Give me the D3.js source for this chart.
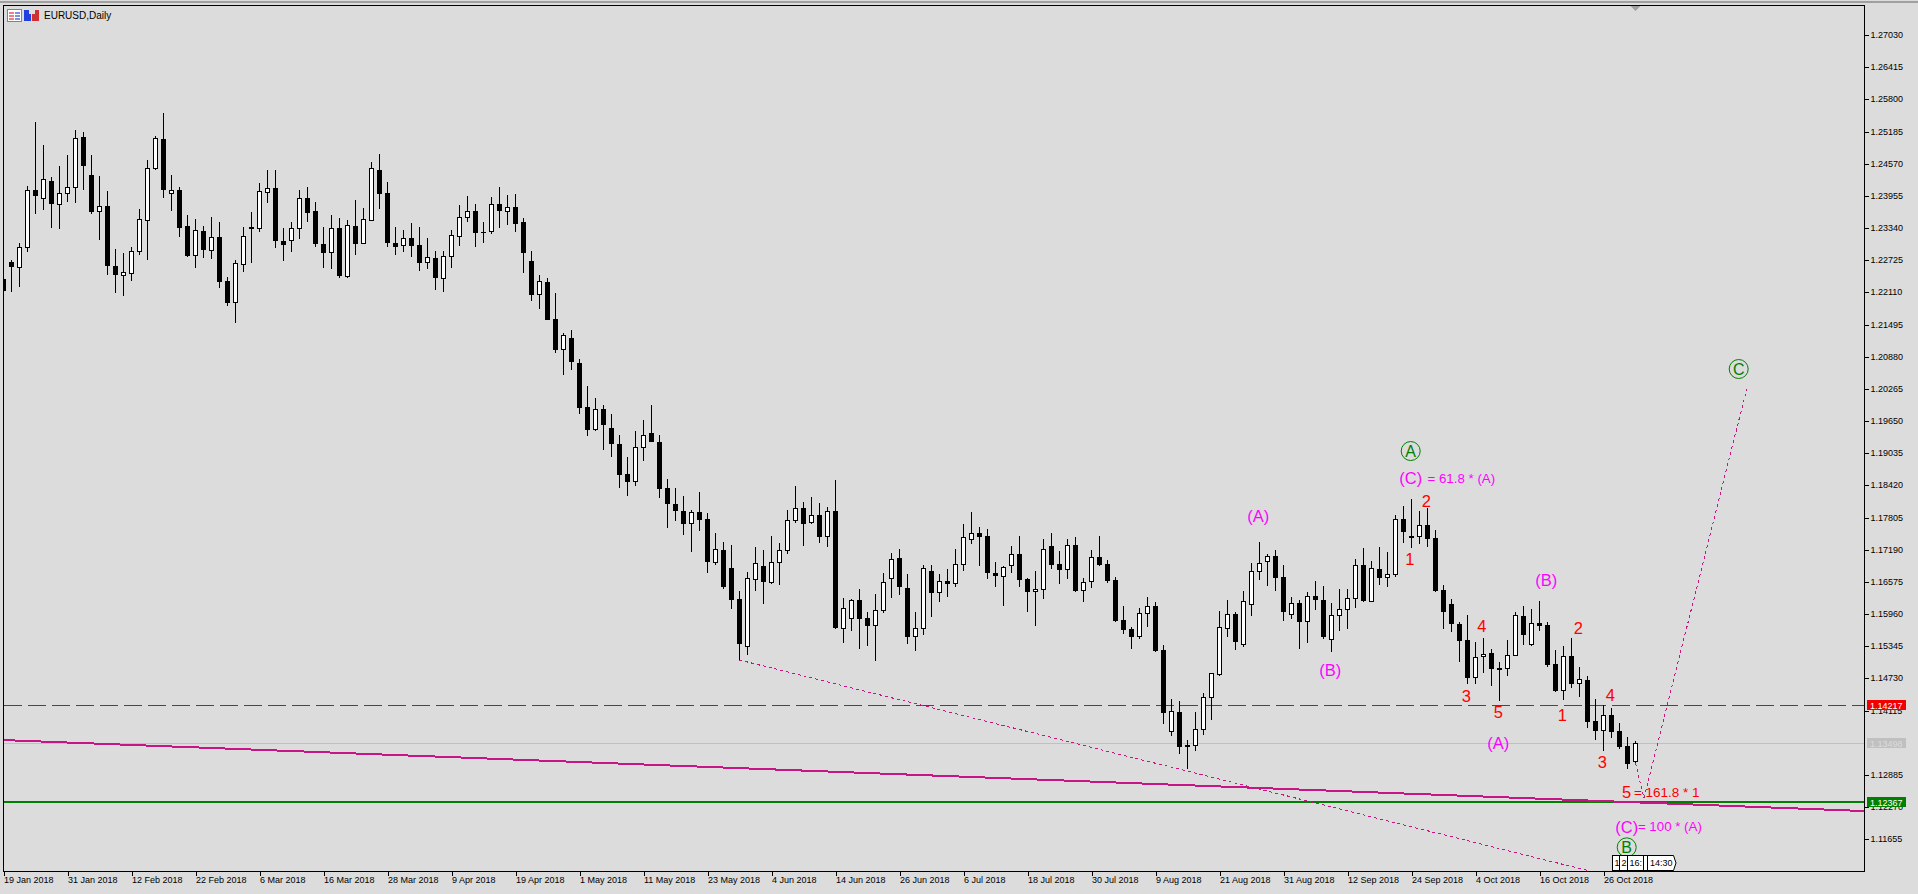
<!doctype html>
<html lang="en">
  <head>
    <meta charset="utf-8">
    <script src="https://cdn.jsdelivr.net/npm/d3@7"></script>
    <style>
html, body { margin: 0; padding: 0; background: #dcdcdc; overflow: hidden; }
svg { display: block; }
text { font-family: "Liberation Sans", Arial, sans-serif; }
.axis text { font-size: 9px; fill: #000; }
.axis path, .axis line { stroke: #000; shape-rendering: crispEdges; }
    </style>
  </head>
  <body>
    <div id="chart"></div>
    <script>
//=============================== DATA ===================================
var highs = [
1.22365,1.22729,1.23054,1.24143,1.25367,1.24927,1.24315,1.24525,1.24735,1.25214,1.25176,1.24735,1.24334,1.24048,1.22939,1.22863,1.22977,1.23703,1.24640,1.25099,
1.25539,1.24353,1.24124,1.23588,1.23512,1.23378,1.23550,1.23455,1.22403,1.22729,1.23359,1.23646,1.24201,1.24449,1.24449,1.23340,1.23455,1.24067,1.24124,1.23838,
1.23359,1.23588,1.23531,1.23493,1.23876,1.23722,1.24602,1.24755,1.24220,1.23359,1.23302,1.23436,1.23359,1.23149,1.22901,1.22901,1.23302,1.23780,1.23952,1.23799,
1.23455,1.23933,1.24124,1.23971,1.23990,1.23531,1.22901,1.22442,1.22384,1.22098,1.21333,1.21390,1.20836,1.20320,1.20091,1.19956,1.19785,1.19383,1.18962,1.19460,
1.19670,1.19956,1.19383,1.18542,1.18370,1.18217,1.17949,1.18294,1.17892,1.17510,1.17338,1.17280,1.16401,1.16764,1.17242,1.17185,1.17453,1.17319,1.17949,1.18408,
1.18103,1.18198,1.18084,1.18007,1.18523,1.16267,1.16248,1.16439,1.16000,1.16344,1.16745,1.17128,1.17204,1.16726,1.16000,1.16898,1.16898,1.16726,1.16821,1.17204,
1.17682,1.17911,1.17624,1.17586,1.16956,1.16879,1.17261,1.17453,1.16649,1.16783,1.17395,1.17510,1.17166,1.17395,1.17434,1.16649,1.17185,1.17453,1.16994,1.16668,
1.16114,1.15712,1.16076,1.16286,1.16191,1.15369,1.14336,1.14298,1.13552,1.14088,1.14451,1.14833,1.16019,1.16229,1.16000,1.16401,1.16936,1.17338,1.17109,1.17185,
1.16898,1.16286,1.16229,1.16382,1.16592,1.16496,1.16172,1.16439,1.16439,1.17013,1.17223,1.16975,1.17242,1.17147,1.17853,1.18026,1.18160,1.17930,1.17988,1.17567,
1.16515,1.16248,1.15808,1.15942,1.15426,1.15503,1.15292,1.15044,1.15464,1.16000,1.16114,1.16057,1.16210,1.15808,1.15273,1.15349,1.15503,1.14948,1.14776,1.14336,
1.14221,1.14164,1.13877,1.13609,1.13533]
var lows = [
1.22136,1.22117,1.22213,1.22882,1.23608,1.23684,1.23340,1.23321,1.23838,1.23818,1.24067,1.23608,1.23111,1.22442,1.22098,1.22041,1.22327,1.22824,1.22729,1.24449,
1.23914,1.23665,1.23168,1.22786,1.22576,1.22767,1.22748,1.22193,1.21849,1.21524,1.22499,1.22671,1.23264,1.23818,1.22958,1.22710,1.22882,1.23130,1.23455,1.22977,
1.22576,1.22557,1.22384,1.22384,1.22824,1.23035,1.23474,1.23703,1.22977,1.22824,1.22882,1.22786,1.22518,1.22557,1.22155,1.22117,1.22576,1.22996,1.23455,1.22977,
1.23054,1.23226,1.23340,1.23397,1.23264,1.22480,1.21945,1.21792,1.21582,1.20951,1.20530,1.20626,1.19785,1.19364,1.19460,1.19096,1.18962,1.18370,1.18217,1.18408,
1.18886,1.19250,1.18179,1.17605,1.17739,1.17471,1.17147,1.17548,1.16745,1.16898,1.16439,1.16057,1.15082,1.15177,1.16401,1.16153,1.16535,1.16516,1.17109,1.17701,
1.17261,1.17682,1.17319,1.17242,1.15674,1.15407,1.15636,1.15292,1.15349,1.15063,1.15981,1.16267,1.16324,1.15388,1.15254,1.15560,1.15904,1.16191,1.16286,1.16477,
1.16783,1.17300,1.16879,1.16630,1.16477,1.16114,1.16745,1.16477,1.16000,1.15732,1.16248,1.16821,1.16535,1.16630,1.16382,1.16191,1.16458,1.16879,1.16554,1.15808,
1.15579,1.15292,1.15484,1.15712,1.15235,1.13859,1.13629,1.13285,1.12998,1.13342,1.13648,1.13935,1.14776,1.15522,1.15273,1.15330,1.15923,1.16611,1.16496,1.16401,
1.15827,1.15866,1.15292,1.15407,1.16038,1.15484,1.15235,1.15636,1.15674,1.16076,1.16191,1.16191,1.16516,1.16477,1.16668,1.17319,1.17223,1.17300,1.17242,1.16382,
1.15674,1.15617,1.15044,1.14623,1.14623,1.14833,1.14585,1.14298,1.14776,1.15158,1.15369,1.15349,1.15636,1.14948,1.14470,1.14317,1.14546,1.14374,1.13782,1.13552,
1.13342,1.13591,1.13380,1.12998,1.13113]
var opens = [
1.22365,1.22691,1.22576,1.22958,1.24067,1.23895,1.24239,1.23780,1.23990,1.24105,1.25080,1.24353,1.23646,1.23761,1.22614,1.22423,1.22461,1.22882,1.23474,1.24468,
1.25042,1.23990,1.24067,1.23378,1.22805,1.23283,1.22901,1.23168,1.22327,1.21907,1.22633,1.23359,1.23321,1.24010,1.24105,1.23092,1.23092,1.23321,1.23914,1.23665,
1.23035,1.22863,1.23340,1.22403,1.23378,1.23035,1.23474,1.24449,1.24010,1.23054,1.22996,1.23149,1.23015,1.22671,1.22767,1.22365,1.22786,1.23168,1.23531,1.23665,
1.23264,1.23264,1.23799,1.23646,1.23742,1.23455,1.22710,1.22060,1.22308,1.21601,1.21008,1.21238,1.20760,1.19918,1.19479,1.19880,1.19517,1.19211,1.18638,1.18485,
1.19135,1.19421,1.19250,1.18370,1.18064,1.17930,1.17682,1.17911,1.17777,1.16936,1.17185,1.16840,1.16248,1.15330,1.16611,1.16879,1.16554,1.16936,1.17166,1.17739,
1.17988,1.17701,1.17853,1.17434,1.17930,1.15674,1.15866,1.16229,1.15885,1.15732,1.16019,1.16630,1.17032,1.16458,1.15522,1.15674,1.16783,1.16363,1.16592,1.16535,
1.16898,1.17376,1.17510,1.17453,1.16745,1.16668,1.16879,1.17109,1.16630,1.16382,1.16420,1.17261,1.16917,1.16802,1.17280,1.16401,1.16573,1.17051,1.16917,1.16611,
1.15846,1.15674,1.15522,1.15961,1.16114,1.15273,1.13706,1.14088,1.13457,1.13438,1.13744,1.14355,1.14795,1.15674,1.15961,1.15369,1.16134,1.16764,1.16956,1.17070,
1.16668,1.15942,1.16172,1.15808,1.16305,1.16229,1.15464,1.15923,1.16038,1.16248,1.16898,1.16191,1.16821,1.16649,1.16707,1.17777,1.17453,1.17434,1.17662,1.17415,
1.16420,1.16153,1.15770,1.15464,1.14738,1.15139,1.15216,1.14929,1.14910,1.15158,1.15923,1.15369,1.15789,1.15751,1.15005,1.14489,1.15158,1.14623,1.14699,1.13916,
1.13725,1.14030,1.13725,1.13438,1.13132]
var closes = [
1.22136,1.22595,1.22977,1.24067,1.23952,1.24277,1.23799,1.24010,1.24124,1.25061,1.24525,1.23646,1.23761,1.22614,1.22442,1.22499,1.22901,1.23512,1.24487,1.25061,
1.24067,1.24067,1.23340,1.22805,1.23302,1.22920,1.23168,1.22308,1.21907,1.22671,1.23187,1.23321,1.24048,1.24105,1.23092,1.23015,1.23340,1.23914,1.23627,1.23035,
1.22863,1.23340,1.22423,1.23397,1.23035,1.23512,1.24487,1.23990,1.23054,1.22977,1.23149,1.22996,1.22671,1.22786,1.22384,1.22805,1.23206,1.23550,1.23665,1.23245,
1.23245,1.23799,1.23665,1.23742,1.23417,1.22863,1.22060,1.22327,1.21582,1.21008,1.21295,1.20779,1.19899,1.19479,1.19880,1.19574,1.19211,1.18618,1.18485,1.19154,
1.19383,1.19250,1.18351,1.18064,1.17930,1.17682,1.17911,1.17758,1.16956,1.17204,1.16477,1.16229,1.15388,1.16649,1.16936,1.16573,1.16956,1.17185,1.17758,1.17988,
1.17682,1.17853,1.17434,1.17930,1.15693,1.16076,1.16229,1.15866,1.15732,1.16038,1.16573,1.17013,1.16477,1.15522,1.15693,1.16840,1.16363,1.16592,1.16535,1.16917,
1.17434,1.17510,1.17434,1.16745,1.16687,1.16860,1.17109,1.16611,1.16382,1.16439,1.17204,1.16898,1.16802,1.17280,1.16401,1.16573,1.17051,1.16898,1.16592,1.15827,
1.15655,1.15522,1.15981,1.16114,1.15254,1.14069,1.14107,1.13419,1.13419,1.13763,1.14374,1.14833,1.15712,1.15961,1.15426,1.16210,1.16783,1.16936,1.17070,1.16649,
1.16000,1.16172,1.15808,1.16305,1.16229,1.15522,1.15942,1.16057,1.16267,1.16898,1.16210,1.16840,1.16649,1.16726,1.17777,1.17529,1.17415,1.17662,1.17395,1.16401,
1.16000,1.15770,1.15445,1.14738,1.15139,1.15197,1.14910,1.14891,1.15177,1.15942,1.15560,1.15789,1.15732,1.14986,1.14489,1.15158,1.14623,1.14718,1.13897,1.13725,
1.14030,1.13706,1.13419,1.13094,1.13495]

var dateLabels = ['19 Jan 2018','31 Jan 2018','12 Feb 2018','22 Feb 2018','6 Mar 2018','16 Mar 2018','28 Mar 2018','9 Apr 2018','19 Apr 2018','1 May 2018','11 May 2018','23 May 2018','4 Jun 2018','14 Jun 2018','26 Jun 2018','6 Jul 2018','18 Jul 2018','30 Jul 2018','9 Aug 2018','21 Aug 2018','31 Aug 2018','12 Sep 2018','24 Sep 2018','4 Oct 2018','16 Oct 2018','26 Oct 2018']
var barsPerDateLabel = 8
var priceTicks = [1.27030,1.26415,1.25800,1.25185,1.24570,1.23955,1.23340,1.22725,1.22110,1.21495,1.20880,1.20265,1.19650,1.19035,1.18420,1.17805,1.17190,1.16575,1.15960,1.15345,1.14730,1.14115,1.12885,1.12270,1.11655]

var redLevel = 1.14217, bidLevel = 1.13498, greenLevel = 1.12367

// trend lines as [bar, price] ends
var trendSolid = [[0, 1.13552], [232.6, 1.12195]]
var trendDotA = [[92, 1.15082], [198.3, 1.11048]]
var trendDotB = [[204, 1.13113], [205.05, 1.12444], [217.9, 1.20263]]

// wave labels as [text, bar, price]
var magentaWaves = [['(A)',156.85,1.17840],['(B)',165.85,1.14878],['(B)',192.85,1.16598],['(A)',186.85,1.13500],['(C)',175.9,1.18555],['(C)',202.9,1.11895]]
var magentaNotes = [['= 61.8 * (A)',178.0,1.18555],['= 100 * (A)',204.3,1.11895]]
var redWaves = [['1',175.8,1.17007],['2',177.85,1.18122],['3',182.85,1.14393],['4',184.8,1.15731],['5',186.85,1.14082],['1',194.85,1.14030],['2',196.85,1.15693],['3',199.85,1.13132],['4',200.85,1.14412],['5',202.9,1.12558]]
var redNotes = [['= 161.8 * 1',203.8,1.12558]]
var circledWaves = [['A',175.9,1.19077],['B',202.9,1.11501],['C',216.9,1.20645]]

//=============================== DRAW ===================================
var W = 1918, H = 894
var plotL = 3.5, plotR = 1864.5, plotT = 5.5, plotB = 871.5

var svg = d3.select('#chart').append('svg').attr('width', W).attr('height', H)
svg.append('rect').attr('width', W).attr('height', H).attr('fill', '#dcdcdc')
svg.append('rect').attr('x', 0).attr('y', 1).attr('width', W).attr('height', 2).attr('fill', '#a0a0a0')

var x = d3.scaleLinear().domain([0, 1]).range([3.5, 11.5])
var y = d3.scaleLinear().domain([1.27030, 1.11655]).range([35, 839.3])
var py = function(v) { return Math.round(y(v)) }

svg.append('clipPath').attr('id', 'plot').append('rect')
	.attr('x', plotL).attr('y', plotT).attr('width', plotR - plotL).attr('height', plotB - plotT)
var g = svg.append('g').attr('clip-path', 'url(#plot)')

// horizontal levels
function level(v, color, width, dash) {
	g.append('line').attr('x1', plotL).attr('x2', plotR)
		.attr('y1', width == 2 ? py(v) : py(v) + 0.5).attr('y2', width == 2 ? py(v) : py(v) + 0.5)
		.attr('stroke', color).attr('stroke-width', width)
		.attr('stroke-dasharray', dash).attr('shape-rendering', 'crispEdges')
}
level(bidLevel, '#c0c0c0', 1)
level(greenLevel, '#008000', 2)
level(redLevel, '#f00000', 1, '18,6')

// candles
var bars = d3.range(highs.length)
g.selectAll('line.wick').data(bars).enter().append('line').attr('class', 'wick')
	.attr('x1', function(i) { return x(i) }).attr('x2', function(i) { return x(i) })
	.attr('y1', function(i) { return py(highs[i]) }).attr('y2', function(i) { return py(lows[i]) })
	.attr('stroke', '#000').attr('shape-rendering', 'crispEdges')
g.selectAll('rect.body').data(bars).enter().append('rect').attr('class', 'body')
	.attr('x', function(i) { return closes[i] > opens[i] ? x(i) - 2 : x(i) - 2.5 })
	.attr('width', function(i) { return closes[i] > opens[i] ? 4 : 5 })
	.attr('y', function(i) {
		var t = py(Math.max(opens[i], closes[i]))
		return closes[i] > opens[i] ? t + 0.5 : t
	})
	.attr('height', function(i) {
		var h = py(Math.min(opens[i], closes[i])) - py(Math.max(opens[i], closes[i]))
		return closes[i] > opens[i] ? Math.max(h - 1, 1) : Math.max(h, 1)
	})
	.attr('fill', function(i) { return closes[i] > opens[i] ? '#fff' : '#000' })
	.attr('stroke', function(i) { return closes[i] > opens[i] ? '#000' : 'none' })
	.attr('shape-rendering', 'crispEdges')

// trend lines
var trendPath = d3.line().x(function(d) { return x(d[0]) }).y(function(d) { return y(d[1]) })
g.append('path').attr('d', trendPath(trendSolid)).attr('fill', 'none')
	.attr('stroke', '#c71585').attr('stroke-width', 2).attr('shape-rendering', 'crispEdges')
;[trendDotA, trendDotB].forEach(function(t) {
	g.append('path').attr('d', trendPath(t)).attr('fill', 'none')
		.attr('stroke', '#c71585').attr('stroke-width', 1)
		.attr('stroke-dasharray', '3,3').attr('shape-rendering', 'crispEdges')
})

// axes
var yAxis = d3.axisRight(y).tickValues(priceTicks).tickSize(4).tickPadding(2)
	.tickFormat(function(d) { return d.toFixed(5) })
var yg = svg.append('g').attr('class', 'axis').attr('transform', 'translate(' + plotR + ',0)').call(yAxis)
yg.select('.domain').remove()
yg.selectAll('.tick').attr('transform', function(d) { return 'translate(0,' + (py(d) + 0.5) + ')' })

var xAxis = d3.axisBottom(x).tickValues(dateLabels.map(function(d, k) { return k * barsPerDateLabel }))
	.tickSize(4).tickFormat(function(d) { return dateLabels[d / barsPerDateLabel] })
var xg = svg.append('g').attr('class', 'axis').attr('transform', 'translate(0,' + plotB + ')').call(xAxis)
xg.select('.domain').remove()
xg.selectAll('text').attr('text-anchor', 'start').attr('x', 0).attr('y', 5)

svg.append('rect').attr('x', plotL).attr('y', plotT).attr('width', plotR - plotL).attr('height', plotB - plotT)
	.attr('fill', 'none').attr('stroke', '#000').attr('shape-rendering', 'crispEdges')

// chart shift mark above the last bar
svg.append('path').attr('d', 'M' + (x(204) - 5) + ',6H' + (x(204) + 5) + 'L' + x(204) + ',11Z').attr('fill', '#a0a0a0')

// price tags on the axis
function priceTag(v, bg, fg) {
	var t = py(v)
	svg.append('rect').attr('x', 1867).attr('y', t - 5).attr('width', 39).attr('height', 10).attr('fill', bg)
	svg.append('text').attr('x', 1870).attr('y', t + 3.5).attr('font-size', 9).attr('fill', fg).text(v.toFixed(5))
}
priceTag(redLevel, '#f00000', '#fff')
priceTag(bidLevel, '#c0c0c0', '#dcdcdc')
priceTag(greenLevel, '#008000', '#fff')

// wave labels
function labels(list, color, size, anchor) {
	svg.append('g').selectAll('text').data(list).enter().append('text')
		.attr('x', function(d) { return x(d[1]) }).attr('y', function(d) { return y(d[2]) })
		.attr('dy', '0.35em').attr('text-anchor', anchor)
		.attr('font-size', size).attr('fill', color)
		.text(function(d) { return d[0] })
}
labels(magentaWaves, '#ff00ff', 16.5, 'middle')
labels(magentaNotes, '#ff00ff', 13.3, 'start')
labels(redWaves, '#ff0000', 16.5, 'middle')
labels(redNotes, '#ff0000', 13.5, 'start')

svg.append('g').selectAll('circle').data(circledWaves).enter().append('circle')
	.attr('cx', function(d) { return x(d[1]) }).attr('cy', function(d) { return y(d[2]) }).attr('r', 9.5)
	.attr('fill', 'none').attr('stroke', '#008000')
labels(circledWaves, '#008000', 16, 'middle')

// title and the two little icons
svg.append('text').attr('x', 44).attr('y', 19).attr('font-size', 10).attr('fill', '#000').text('EURUSD,Daily')
var icons = svg.append('g').attr('shape-rendering', 'crispEdges')
icons.append('rect').attr('x', 7.5).attr('y', 9.5).attr('width', 14).attr('height', 12).attr('fill', '#fff').attr('stroke', '#7080c0')
;[12, 15, 18].forEach(function(t) {
	icons.append('rect').attr('x', 9).attr('y', t).attr('width', 5).attr('height', 2).attr('fill', '#f08080')
	icons.append('rect').attr('x', 15).attr('y', t).attr('width', 5).attr('height', 2).attr('fill', '#8090e0')
})
icons.append('rect').attr('x', 24).attr('y', 10).attr('width', 7).attr('height', 11).attr('fill', '#2040e0')
icons.append('rect').attr('x', 32).attr('y', 10).attr('width', 7).attr('height', 11).attr('fill', '#d03030')
icons.append('rect').attr('x', 29).attr('y', 10).attr('width', 6).attr('height', 4).attr('fill', '#e0e0e0')

// period separators tags at the bottom
var tags = [['1', 1612, 7], ['2', 1619, 8], ['16:', 1627, 16], ['', 1643, 4]]
tags.forEach(function(t) {
	svg.append('rect').attr('x', t[1] + 0.5).attr('y', 855.5).attr('width', t[2]).attr('height', 15)
		.attr('fill', '#fff').attr('stroke', '#000').attr('shape-rendering', 'crispEdges')
	svg.append('text').attr('x', t[1] + 2.5).attr('y', 866).attr('font-size', 9).text(t[0])
})
svg.append('path').attr('d', 'M1647.5,855.5H1673.5L1676,863L1673.5,870.5H1647.5Z')
	.attr('fill', '#fff').attr('stroke', '#000')
svg.append('text').attr('x', 1650).attr('y', 866).attr('font-size', 9).text('14:30')
    </script>
  </body>
</html>
